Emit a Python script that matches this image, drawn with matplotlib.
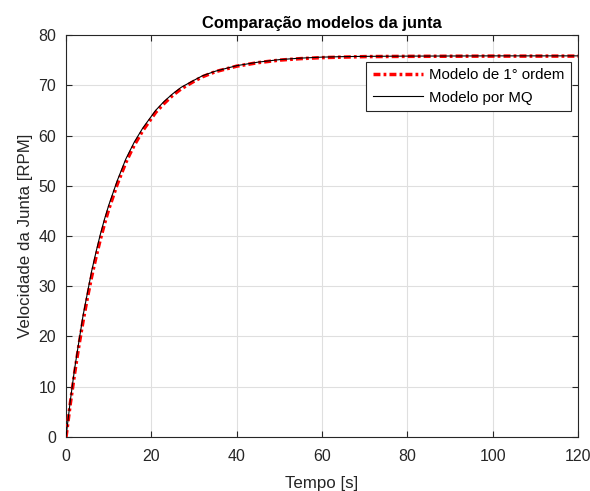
import matplotlib
matplotlib.use("Agg")
import matplotlib.pyplot as plt

# values
tempo = [0, 1, 2, 3, 4, 5, 6, 7, 8, 9, 10, 12, 14, 15, 16, 18, 21, 23, 25, 27,
         30, 32, 35, 40, 45, 50, 55, 60, 65, 70, 80, 100, 120]
primeira_ordem = [0, 6.6, 12.6, 18.1, 23.1, 27.7, 31.9, 35.7, 39.2, 42.4, 45.3,
                  50.3, 54.6, 56.4, 58.1, 61.0, 64.6, 66.4, 68.0, 69.3,
                  70.8, 71.7, 72.7, 73.8, 74.5, 75.0, 75.3, 75.5, 75.6, 75.7,
                  75.75, 75.8, 75.8]
modelo_mq = [0, 7.2, 13.5, 18.9, 24.2, 28.6, 33.0, 36.7, 40.2, 43.3, 46.1,
             51.0, 55.3, 57.0, 58.7, 61.5, 65.0, 66.8, 68.3, 69.6,
             71.0, 71.9, 72.8, 73.9, 74.6, 75.1, 75.4, 75.6, 75.7, 75.75,
             75.8, 75.85, 75.85]

plt.rcParams['font.family'] = ['Liberation Sans', 'DejaVu Sans']
txt = '#262626'

fig = plt.figure(figsize=(5.9, 4.91), dpi=100)
ax = fig.add_axes([0.1119, 0.110, 0.868, 0.8187])

ax.plot(tempo, primeira_ordem, color='red', linestyle=(0, (2.0, 0.9, 0.8, 0.9)),
        linewidth=2.5, label='Modelo de 1° ordem', zorder=3)
ax.plot(tempo, modelo_mq, color='black', linewidth=0.8,
        label='Modelo por MQ', zorder=4)

ax.set_xlim(0, 120)
ax.set_ylim(0, 80)
ax.set_xticks(range(0, 121, 20))
ax.set_yticks(range(0, 81, 10))
ax.grid(True, color='#dfdfdf', linewidth=0.8)
ax.set_axisbelow(True)
ax.tick_params(direction='in', top=True, right=True, labelsize=11.5,
               colors=txt, length=4, pad=7)
ax.tick_params(axis='x', pad=9)
for s in ax.spines.values():
    s.set_color(txt)
    s.set_linewidth(0.8)

ax.set_xlabel('Tempo [s]', fontsize=12.2, color=txt, labelpad=8)
ax.set_ylabel('Velocidade da Junta [RPM]', fontsize=12.2, color=txt, labelpad=4)
ax.set_title('Comparação modelos da junta', fontsize=11.9, fontweight='bold',
             color='black', pad=5)

leg = ax.legend(loc='upper right', bbox_to_anchor=(0.9857, 0.9336), fontsize=10.8,
                frameon=True, fancybox=False, edgecolor=txt, framealpha=1,
                borderpad=0.45, handlelength=3.3, labelspacing=0.55,
                handletextpad=0.4, borderaxespad=0)
leg.get_frame().set_linewidth(0.8)

fig.savefig('out.png', dpi=100)
